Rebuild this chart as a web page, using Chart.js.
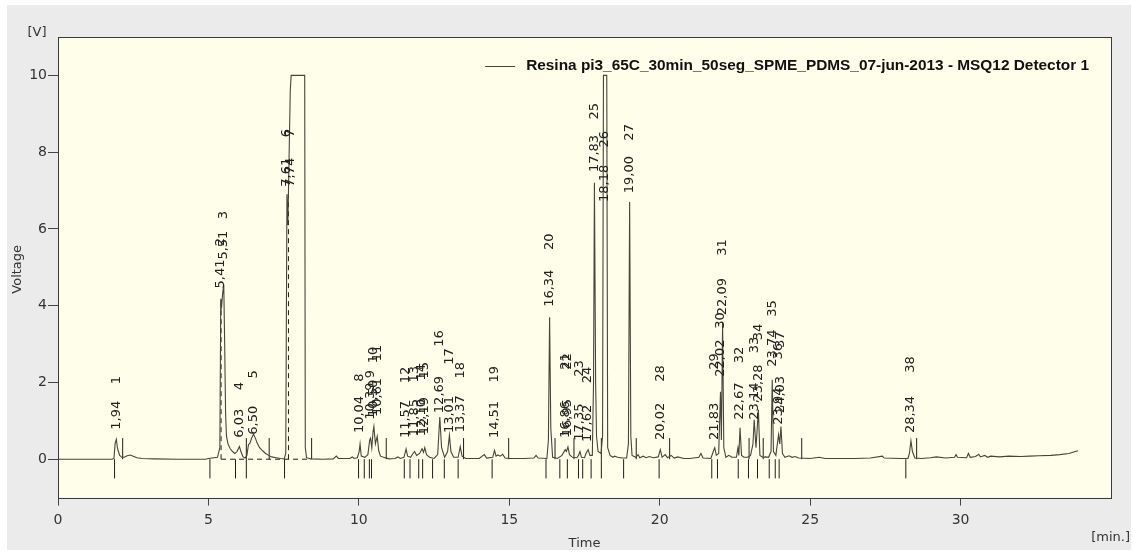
<!DOCTYPE html>
<html>
<head>
<meta charset="utf-8">
<script src="https://cdn.jsdelivr.net/npm/chart.js@4.4.1/dist/chart.umd.min.js"></script>
<style>
  html, body { margin: 0; padding: 0; background: #fff; }
  #wrap { width: 1133px; height: 552px; }
</style>
</head>
<body>
<div id="wrap"><canvas id="chart" width="1133" height="552"></canvas></div>
<script>
// Detector trace (time in min, voltage in V)
const traceTime = [
  0, 1.80, 1.86, 1.90, 1.94, 1.97, 2.00, 2.05, 2.12, 2.20, 2.30, 2.40, 2.50, 2.62, 2.80, 3.20, 4.00, 4.90,
  5.00, 5.30, 5.38, 5.41, 5.44, 5.47, 5.51, 5.54, 5.57, 5.60, 5.65, 5.72, 5.80, 5.88, 5.95, 6.03, 6.08, 6.15,
  6.22, 6.28, 6.33, 6.38, 6.44, 6.50, 6.56, 6.62, 6.70, 6.80, 6.90, 7.00, 7.10, 7.25, 7.40, 7.52, 7.57, 7.61,
  7.64, 7.72, 7.75, 8.20, 8.22, 8.26, 8.40, 8.80, 9.15, 9.25, 9.32, 9.70, 9.78, 9.84, 9.95, 10.01, 10.04,
  10.08, 10.20, 10.30, 10.36, 10.39, 10.43, 10.47, 10.50, 10.55, 10.61, 10.66, 10.72, 10.82, 11.00, 11.20, 11.30,
  11.38, 11.50, 11.57, 11.62, 11.72, 11.80, 11.85, 11.92, 12.02, 12.10, 12.15, 12.19, 12.25, 12.35, 12.50, 12.62,
  12.69, 12.75, 12.85, 12.95, 13.01, 13.06, 13.15, 13.30, 13.37, 13.43, 13.55, 14.00, 14.17, 14.25, 14.45, 14.51,
  14.56, 14.62, 14.70, 14.78, 14.86, 15.00, 15.50, 15.82, 15.89, 15.96, 16.25, 16.30, 16.34, 16.38, 16.44, 16.60,
  16.75, 16.86, 16.90, 16.95, 17.00, 17.10, 17.25, 17.30, 17.35, 17.40, 17.50, 17.55, 17.62, 17.68, 17.76, 17.80,
  17.83, 17.87, 17.90, 17.95, 18.05, 18.10, 18.13, 18.24, 18.27, 18.35, 18.45, 18.50, 18.60, 18.75, 18.90, 18.96,
  19.00, 19.04, 19.08, 19.20, 19.28, 19.34, 19.45, 19.55, 19.65, 19.80, 19.95, 20.02, 20.08, 20.18, 20.26, 20.38,
  20.48, 20.60, 20.80, 21.00, 21.30, 21.37, 21.44, 21.70, 21.78, 21.83, 21.88, 21.96, 22.02, 22.05, 22.09, 22.13,
  22.20, 22.30, 22.40, 22.55, 22.60, 22.63, 22.67, 22.72, 22.80, 22.92, 23.02, 23.10, 23.14, 23.20, 23.28, 23.33,
  23.42, 23.52, 23.62, 23.70, 23.74, 23.78, 23.86, 23.95, 23.99, 24.03, 24.08, 24.16, 24.30, 24.40, 24.50, 24.62,
  25.00, 25.30, 25.50, 26.00, 26.50, 27.00, 27.40, 27.46, 28.00, 28.25, 28.30, 28.35, 28.40, 28.48, 28.70, 29.00,
  29.20, 29.50, 29.80, 29.85, 29.90, 30.20, 30.26, 30.32, 30.50, 30.60, 30.66, 30.80, 30.90, 31.00, 31.30, 31.60,
  32.00, 32.30, 32.60, 33.00, 33.30, 33.60, 33.90
];
const traceVolt = [
  0, 0, 0.02, 0.42, 0.52, 0.32, 0.22, 0.10, 0.05, 0.05, 0.09, 0.11, 0.08, 0.04, 0.02, 0.01, 0, 0,
  0.02, 0.05, 0.30, 4.18, 4.00, 4.30, 4.55, 3.00, 1.20, 0.60, 0.40, 0.28, 0.20, 0.15, 0.20, 0.33, 0.20, 0.06,
  0.03, 0.10, 0.38, 0.42, 0.56, 0.65, 0.55, 0.42, 0.30, 0.22, 0.15, 0.10, 0.06, 0.04, 0.02, 0.01, 0.15, 6.90,
  6.10, 9.60, 10, 10, 0.30, 0.04, 0.01, 0, 0.01, 0.08, 0.02, 0.02, 0.06, 0.02, 0.04, 0.20, 0.40,
  0.08, 0.05, 0.12, 0.50, 0.55, 0.30, 0.70, 0.85, 0.40, 0.60, 0.22, 0.08, 0.05, 0.01, 0.02, 0.06,
  0.02, 0.05, 0.27, 0.08, 0.05, 0.15, 0.20, 0.10, 0.15, 0.27, 0.18, 0.30, 0.12, 0.05, 0.02, 0.12,
  1.10, 0.30, 0.05, 0.20, 0.62, 0.20, 0.05, 0.05, 0.33, 0.08, 0.02, 0.02, 0.12, 0.03, 0.05, 0.23,
  0.08, 0.11, 0.08, 0.13, 0.03, 0.02, 0.02, 0.03, 0.10, 0.03, 0.02, 0.50, 3.70, 0.80, 0.05, 0.02,
  0.10, 0.25, 0.20, 0.32, 0.12, 0.05, 0.04, 0.10, 0.20, 0.05, 0.04, 0.15, 0.25, 0.10, 0.10, 2.00,
  7.20, 2.00, 0.60, 0.20, 0.15, 0.60, 10, 10, 0.30, 0.10, 0.05, 0.08, 0.05, 0.03, 0.03, 0.40,
  6.70, 0.60, 0.10, 0.05, 0.12, 0.04, 0.08, 0.04, 0.07, 0.04, 0.06, 0.25, 0.05, 0.12, 0.04, 0.10,
  0.03, 0.06, 0.02, 0.02, 0.05, 0.15, 0.03, 0.02, 0.20, 0.30, 0.10, 0.15, 1.76, 0.50, 3.55, 0.30,
  0.05, 0.10, 0.05, 0.05, 0.30, 0.10, 0.82, 0.10, 0.05, 0.05, 0.10, 0.40, 1.03, 0.30, 1.29, 0.10,
  0.05, 0.06, 0.05, 0.20, 2.07, 0.20, 0.10, 0.64, 0.40, 0.85, 0.15, 0.05, 0.09, 0.05, 0.07, 0.03,
  0.02, 0.05, 0.02, 0.02, 0.02, 0.03, 0.08, 0.03, 0.02, 0.02, 0.15, 0.48, 0.20, 0.03, 0.02, 0.04,
  0.06, 0.03, 0.05, 0.12, 0.05, 0.04, 0.15, 0.05, 0.07, 0.13, 0.06, 0.10, 0.05, 0.08, 0.06, 0.08,
  0.07, 0.08, 0.09, 0.10, 0.12, 0.15, 0.22
];

// Integrated peaks: retention time, where the time label and the peak number start (V)
const peakTimes = [1.94, 5.41, 5.51, 6.03, 6.50, 7.61, 7.74, 10.04, 10.39, 10.50, 10.61, 11.57, 11.85,
  12.10, 12.19, 12.69, 13.01, 13.37, 14.51, 16.34, 16.86, 16.95, 17.35, 17.62, 17.83, 18.18, 19.00,
  20.02, 21.83, 22.02, 22.09, 22.67, 23.14, 23.28, 23.74, 23.94, 24.03, 28.34];
const labelAt = [0.77, 4.45, 5.2, 0.56, 0.64, 7.1, 7.1, 0.68, 1.03, 1.1, 1.15, 0.55, 0.6,
  0.6, 0.65, 1.2, 0.68, 0.7, 0.55, 3.97, 0.55, 0.6, 0.48, 0.45, 7.48, 6.7, 6.93,
  0.5, 0.5, 2.15, 3.75, 1.03, 1.03, 1.5, 2.41, 0.9, 1.2, 0.68];
const numberAt = [1.95, 5.55, 6.25, 1.8, 2.1, 8.39, 8.39, 2.02, 2.11, 2.5, 2.55, 1.98, 2.0,
  2.05, 2.1, 2.93, 2.46, 2.1, 2.0, 5.45, 2.33, 2.33, 2.15, 1.98, 8.85, 8.12, 8.3,
  2.02, 2.33, 3.4, 5.3, 2.5, 2.76, 3.1, 3.71, 2.6, 2.9, 2.25];

// Integration marks: peak starts (drawn below baseline) and peak ends (above)
const startMarks = [1.88, 5.05, 5.90, 6.26, 7.53, 9.99, 10.18, 10.35, 10.42, 11.51, 11.70, 11.99, 12.12,
  12.45, 12.84, 13.30, 14.43, 16.22, 16.68, 16.93, 17.30, 17.44, 17.72, 18.06, 18.80, 19.98, 21.73,
  21.92, 22.61, 22.95, 23.25, 23.64, 23.84, 23.97, 28.18];
const endMarks = [2.15, 6.26, 7.02, 8.43, 10.91, 13.48, 14.98, 16.52, 17.15, 18.06, 19.22, 20.33,
  22.97, 23.44, 24.72, 28.54];
const markDepth = -0.5;
const markHeight = 0.55;

// Drop lines and common baseline of the fused peaks
const dropTimes = [5.42, 7.66];
const dropTops = [4.15, 6.9];
const groupBaseline = [5.42, 8.3];

const yTicks = [0, 2, 4, 6, 8, 10];
const xTicks = [0, 5, 10, 15, 20, 25, 30];
const seriesName = 'Resina pi3_65C_30min_50seg_SPME_PDMS_07-jun-2013 - MSQ12 Detector 1';

const traceColor = '#45453c';
const textColor = '#222';

const tracePoints = traceTime.map((t, i) => ({ x: t, y: traceVolt[i] }));

// vertical marks as broken line segments
const marks = [];
startMarks.forEach(t => marks.push({ t, lo: markDepth, hi: 0 }));
endMarks.forEach(t => marks.push({ t, lo: 0, hi: markHeight }));
marks.sort((a, b) => a.t - b.t);
const markPoints = [];
marks.forEach(m => {
  markPoints.push({ x: m.t, y: m.lo }, { x: m.t, y: m.hi }, { x: m.t, y: null });
});

const dropPoints = [];
dropTimes.forEach((t, i) => {
  dropPoints.push({ x: t, y: 0 }, { x: t, y: dropTops[i] }, { x: t, y: null });
});
const basePoints = [{ x: groupBaseline[0], y: 0 }, { x: groupBaseline[1], y: 0 }];

function fmt(t) {
  return t.toFixed(2).replace('.', ',');
}

const framePlugin = {
  id: 'frame',
  beforeDraw(chart) {
    const ctx = chart.ctx;
    const a = chart.chartArea;
    ctx.save();
    ctx.fillStyle = '#fff';
    ctx.fillRect(0, 0, chart.width, chart.height);
    ctx.fillStyle = '#ebebeb';
    ctx.fillRect(7, 5, 1124, 545);
    ctx.fillStyle = '#fefeea';
    ctx.fillRect(a.left, a.top, a.right - a.left, a.bottom - a.top);
    ctx.restore();
  },
  afterDatasetsDraw(chart) {
    const ctx = chart.ctx;
    const xs = chart.scales.x;
    const ys = chart.scales.y;
    ctx.save();
    ctx.fillStyle = textColor;
    ctx.font = '13px "DejaVu Sans"';
    ctx.textAlign = 'left';
    ctx.textBaseline = 'middle';
    peakTimes.forEach((t, i) => {
      const x = xs.getPixelForValue(t);
      [[fmt(t), labelAt[i]], [String(i + 1), numberAt[i]]].forEach(([txt, v]) => {
        ctx.save();
        ctx.translate(x, ys.getPixelForValue(v));
        ctx.rotate(-Math.PI / 2);
        ctx.fillText(txt, 0, 0);
        ctx.restore();
      });
    });
    ctx.restore();
  },
  afterDraw(chart) {
    const ctx = chart.ctx;
    const a = chart.chartArea;
    ctx.save();
    // plot frame
    ctx.strokeStyle = '#3a3a3a';
    ctx.lineWidth = 1;
    ctx.strokeRect(Math.round(a.left) + 0.5, Math.round(a.top) + 0.5,
      Math.round(a.right - a.left), Math.round(a.bottom - a.top));

    // legend inside the plot
    ctx.font = 'bold 15.4px "Liberation Sans"';
    ctx.textBaseline = 'middle';
    ctx.textAlign = 'right';
    ctx.fillStyle = '#111';
    const tx = a.right - 22;
    const ty = a.top + 29;
    ctx.fillText(seriesName, tx, ty);
    const w = ctx.measureText(seriesName).width;
    ctx.strokeStyle = traceColor;
    ctx.beginPath();
    ctx.moveTo(tx - w - 41, ty + 0.5);
    ctx.lineTo(tx - w - 11, ty + 0.5);
    ctx.stroke();

    // axis titles and units
    ctx.fillStyle = '#333';
    ctx.font = '13px "DejaVu Sans"';
    ctx.textAlign = 'center';
    ctx.fillText('[V]', 37, 33);
    ctx.fillText('Time', (a.left + a.right) / 2, 544);
    ctx.textAlign = 'right';
    ctx.fillText('[min.]', 1130, 538);
    ctx.save();
    ctx.translate(18, (a.top + a.bottom) / 2 + 2);
    ctx.rotate(-Math.PI / 2);
    ctx.textAlign = 'center';
    ctx.fillText('Voltage', 0, 0);
    ctx.restore();
    ctx.restore();
  }
};

new Chart(document.getElementById('chart'), {
  type: 'line',
  data: {
    datasets: [
      {
        data: tracePoints,
        borderColor: traceColor,
        borderWidth: 1.1,
        pointRadius: 0,
        tension: 0,
        order: 1
      },
      {
        data: markPoints,
        borderColor: '#1e1e1e',
        borderWidth: 1,
        pointRadius: 0,
        spanGaps: false,
        order: 2
      },
      {
        data: dropPoints,
        borderColor: '#1e1e1e',
        borderWidth: 1,
        borderDash: [5, 4],
        pointRadius: 0,
        spanGaps: false,
        order: 3
      },
      {
        data: basePoints,
        borderColor: '#1e1e1e',
        borderWidth: 1,
        borderDash: [5, 4],
        pointRadius: 0,
        order: 4
      }
    ]
  },
  options: {
    responsive: false,
    animation: false,
    events: [],
    layout: { padding: { top: 37, right: 22, left: 0, bottom: 0 } },
    plugins: {
      legend: { display: false },
      tooltip: { enabled: false }
    },
    scales: {
      x: {
        type: 'linear',
        min: 0,
        max: 35,
        afterBuildTicks: s => { s.ticks = xTicks.map(v => ({ value: v })); },
        afterFit: s => { s.height = 54.4; },
        grid: { display: true, drawOnChartArea: false, drawTicks: true, tickLength: 8, color: '#444' },
        border: { display: false },
        ticks: {
          padding: 6,
          maxRotation: 0,
          color: '#333',
          font: { family: 'DejaVu Sans', size: 14 }
        }
      },
      y: {
        type: 'linear',
        min: -1,
        max: 11,
        afterBuildTicks: s => { s.ticks = yTicks.map(v => ({ value: v })); },
        afterFit: s => { s.width = 58; },
        grid: { display: true, drawOnChartArea: false, drawTicks: true, tickLength: 10, color: '#444' },
        border: { display: false },
        ticks: {
          padding: 1,
          color: '#333',
          font: { family: 'DejaVu Sans', size: 14 }
        }
      }
    }
  },
  plugins: [framePlugin]
});
</script>
</body>
</html>
